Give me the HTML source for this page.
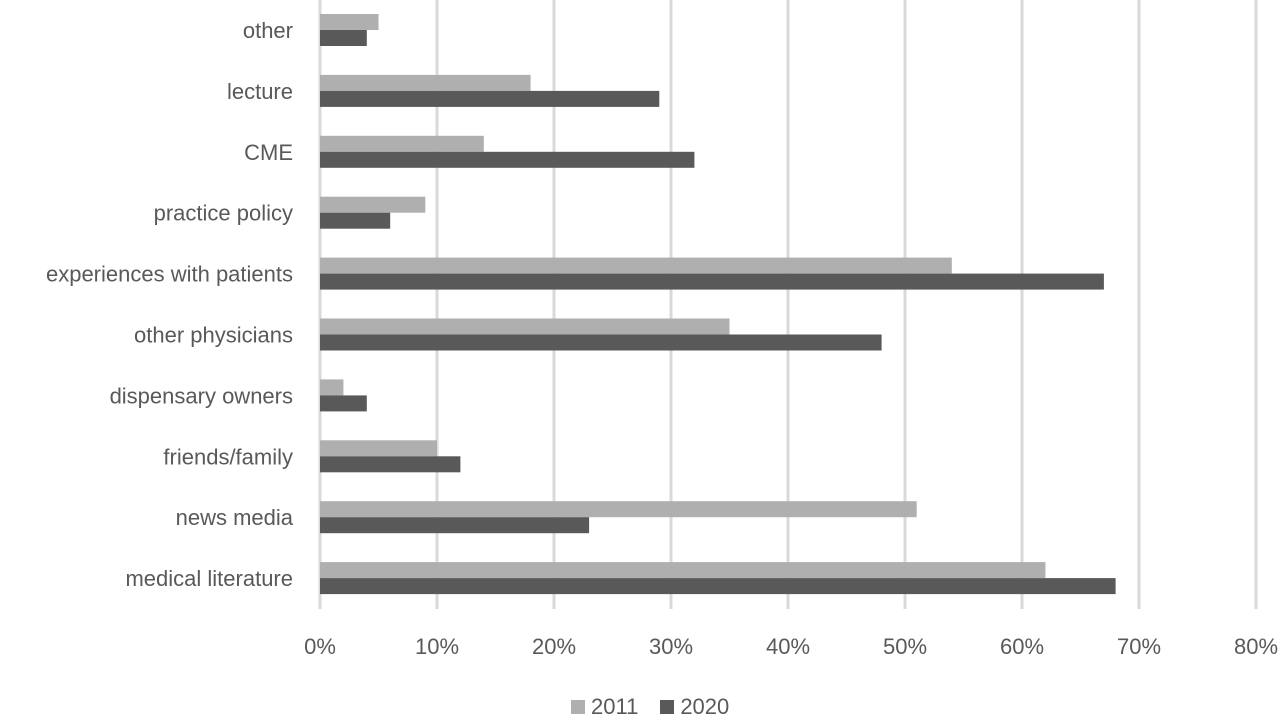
<!DOCTYPE html>
<html><head><meta charset="utf-8"><style>
body{margin:0;background:#fff;}
svg{display:block;font-family:"Liberation Sans",sans-serif;}
</style></head><body>
<svg id="chart" width="1280" height="716"></svg>
<script>
const categories=["other","lecture","CME","practice policy","experiences with patients","other physicians","dispensary owners","friends/family","news media","medical literature"];
const values2011=[5,18,14,9,54,35,2,10,51,62];
const values2020=[4,29,32,6,67,48,4,12,23,68];
const tickLabels=["0%","10%","20%","30%","40%","50%","60%","70%","80%"];
const tickValues=[0,10,20,30,40,50,60,70,80];
const NS="http://www.w3.org/2000/svg";
const svg=document.getElementById('chart');
const x=v=>320+v*11.7;
const yc=i=>30+i*60.9;
function mk(t,a){const e=document.createElementNS(NS,t);for(const k in a)e.setAttribute(k,a[k]);svg.appendChild(e);return e;}
tickValues.forEach((v,i)=>{
 const g=mk('line',{x1:x(v),x2:x(v),y1:0,y2:609,stroke:'#d9d9d9','stroke-width':3});
 
 
 const t=mk('text',{x:x(v),y:654,'text-anchor':'middle','font-size':22,fill:'#595959'});
 t.textContent=tickLabels[i];
 
 
});
categories.forEach((c,i)=>{
 const t=mk('text',{x:293,y:yc(i)+8,'text-anchor':'end','font-size':22,fill:'#595959'});
 t.textContent=c;
 
 
 const b1=mk('rect',{x:x(0),y:yc(i)-16,width:x(values2011[i])-x(0),height:16,fill:'#afafaf'});
 
 
 const b2=mk('rect',{x:x(0),y:yc(i),width:x(values2020[i])-x(0),height:16,fill:'#595959'});
 
 
});
</script>
<div style="position:absolute;left:0;top:0;"></div>
<svg width="0" height="0"></svg>
<div style="position:absolute;left:571px;top:694px;font-family:'Liberation Sans',sans-serif;font-size:22px;color:#595959;display:flex;align-items:center;">
 <span style="width:14px;height:14px;background:#afafaf;display:inline-block;margin-right:6px"></span><span style="margin-right:22px">2011</span>
 <span style="width:14px;height:14px;background:#595959;display:inline-block;margin-right:6px"></span><span>2020</span>
</div>
</body></html>
